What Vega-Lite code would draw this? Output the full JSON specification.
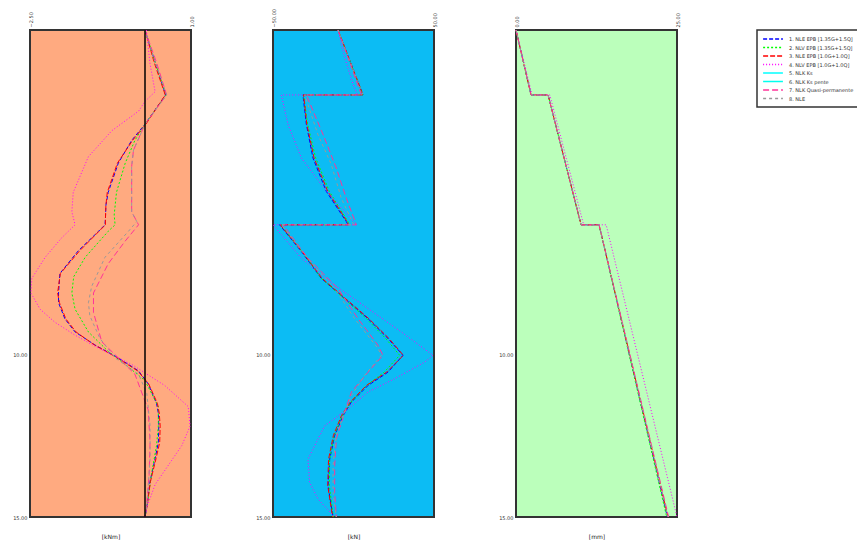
{
"$schema": "https://vega.github.io/schema/vega-lite/v6.json",
"background": "white",
"padding": {"left": 11, "top": 7, "right": 0, "bottom": 0},
"bounds": "flush",
"spacing": 82,
"config": {
 "view": {"stroke": "#333", "strokeWidth": 2},
 "axis": {"labelFont": "DejaVu Sans", "labelFontSize": 5, "titleFont": "DejaVu Sans", "titleFontSize": 6, "titleFontWeight": "normal", "ticks": false, "domain": false, "grid": false, "labelColor": "#333", "titleColor": "#222"},
 "legend": {"orient": "none", "legendX": 727, "legendY": 0, "strokeColor": "#333", "strokeWidth": 1.5, "padding": 5, "labelFont": "DejaVu Sans", "labelFontSize": 5, "labelColor": "#333", "symbolType": "M-3.3,0H3.3", "symbolSize": 36, "symbolStrokeWidth": 1.5, "symbolOffset": 7, "labelOffset": 12, "rowPadding": 1.5, "title": null}
},
"datasets": {
 "m": [
 {"s":"1","y":0,"x":0},{"s":"1","y":1,"x":0.22},{"s":"1","y":2,"x":0.45},{"s":"1","y":2.9,"x":0},{"s":"1","y":3.4,"x":-0.29},{"s":"1","y":4.1,"x":-0.58},{"s":"1","y":5,"x":-0.8},{"s":"1","y":5.4,"x":-0.85},{"s":"1","y":5.8,"x":-0.86},{"s":"1","y":6,"x":-0.87},{"s":"1","y":6.2,"x":-1.01},{"s":"1","y":6.8,"x":-1.45},{"s":"1","y":7.5,"x":-1.85},{"s":"1","y":8.1,"x":-1.88},{"s":"1","y":8.4,"x":-1.88},{"s":"1","y":8.9,"x":-1.74},{"s":"1","y":9.3,"x":-1.52},{"s":"1","y":9.7,"x":-1.09},{"s":"1","y":10.1,"x":-0.58},{"s":"1","y":10.5,"x":-0.14},{"s":"1","y":10.9,"x":0.07},{"s":"1","y":11.5,"x":0.25},{"s":"1","y":11.8,"x":0.29},{"s":"1","y":12.2,"x":0.3},{"s":"1","y":12.7,"x":0.29},{"s":"1","y":13.2,"x":0.22},{"s":"1","y":13.9,"x":0.11},{"s":"1","y":14.7,"x":0.04},{"s":"1","y":15,"x":0},
 {"s":"2","y":0,"x":0},{"s":"2","y":1,"x":0.22},{"s":"2","y":2,"x":0.46},{"s":"2","y":2.9,"x":0},{"s":"2","y":3.4,"x":-0.22},{"s":"2","y":4.1,"x":-0.43},{"s":"2","y":5,"x":-0.62},{"s":"2","y":5.7,"x":-0.67},{"s":"2","y":6,"x":-0.65},{"s":"2","y":6.2,"x":-0.8},{"s":"2","y":7,"x":-1.3},{"s":"2","y":7.6,"x":-1.55},{"s":"2","y":8.1,"x":-1.59},{"s":"2","y":8.6,"x":-1.52},{"s":"2","y":9.3,"x":-1.23},{"s":"2","y":9.9,"x":-0.8},{"s":"2","y":10.3,"x":-0.43},{"s":"2","y":10.8,"x":0},{"s":"2","y":11.6,"x":0.29},{"s":"2","y":12.2,"x":0.29},{"s":"2","y":12.8,"x":0.25},{"s":"2","y":13.7,"x":0.14},{"s":"2","y":14.7,"x":0.04},{"s":"2","y":15,"x":0},
 {"s":"3","y":0,"x":0},{"s":"3","y":1,"x":0.2},{"s":"3","y":2,"x":0.44},{"s":"3","y":2.9,"x":0.02},{"s":"3","y":3.4,"x":-0.27},{"s":"3","y":4.1,"x":-0.6},{"s":"3","y":5,"x":-0.82},{"s":"3","y":5.4,"x":-0.85},{"s":"3","y":5.8,"x":-0.86},{"s":"3","y":6,"x":-0.86},{"s":"3","y":6.2,"x":-1.0},{"s":"3","y":6.8,"x":-1.42},{"s":"3","y":7.5,"x":-1.84},{"s":"3","y":8.1,"x":-1.9},{"s":"3","y":8.4,"x":-1.86},{"s":"3","y":8.9,"x":-1.72},{"s":"3","y":9.3,"x":-1.5},{"s":"3","y":9.7,"x":-1.1},{"s":"3","y":10.1,"x":-0.6},{"s":"3","y":10.5,"x":-0.16},{"s":"3","y":10.9,"x":0.08},{"s":"3","y":11.5,"x":0.27},{"s":"3","y":11.8,"x":0.31},{"s":"3","y":12.2,"x":0.33},{"s":"3","y":12.7,"x":0.32},{"s":"3","y":13.2,"x":0.24},{"s":"3","y":13.9,"x":0.12},{"s":"3","y":14.7,"x":0.04},{"s":"3","y":15,"x":0},
 {"s":"4","y":0,"x":0.03},{"s":"4","y":1.05,"x":0.11},{"s":"4","y":1.9,"x":0.22},{"s":"4","y":2.2,"x":0},{"s":"4","y":2.5,"x":-0.14},{"s":"4","y":3.1,"x":-0.72},{"s":"4","y":3.9,"x":-1.23},{"s":"4","y":5,"x":-1.56},{"s":"4","y":5.6,"x":-1.59},{"s":"4","y":6,"x":-1.52},{"s":"4","y":6.4,"x":-1.81},{"s":"4","y":7,"x":-2.17},{"s":"4","y":7.65,"x":-2.46},{"s":"4","y":8.1,"x":-2.48},{"s":"4","y":8.6,"x":-2.28},{"s":"4","y":9,"x":-1.96},{"s":"4","y":9.4,"x":-1.52},{"s":"4","y":9.8,"x":-1.01},{"s":"4","y":10.3,"x":-0.29},{"s":"4","y":10.95,"x":0.43},{"s":"4","y":11.6,"x":0.94},{"s":"4","y":12.2,"x":0.98},{"s":"4","y":12.8,"x":0.8},{"s":"4","y":13.4,"x":0.51},{"s":"4","y":14,"x":0.22},{"s":"4","y":14.7,"x":0.04},{"s":"4","y":15,"x":0},
 {"s":"7","y":0,"x":0},{"s":"7","y":1,"x":0.25},{"s":"7","y":2,"x":0.47},{"s":"7","y":2.9,"x":0},{"s":"7","y":3.7,"x":-0.25},{"s":"7","y":4.2,"x":-0.29},{"s":"7","y":5.6,"x":-0.29},{"s":"7","y":6,"x":-0.14},{"s":"7","y":6.5,"x":-0.43},{"s":"7","y":7.2,"x":-0.8},{"s":"7","y":8.1,"x":-1.12},{"s":"7","y":8.7,"x":-1.12},{"s":"7","y":9.6,"x":-0.94},{"s":"7","y":10.6,"x":-0.22},{"s":"7","y":11.7,"x":0.07},{"s":"7","y":12.7,"x":0.11},{"s":"7","y":13.7,"x":0.09},{"s":"7","y":14.7,"x":0.03},{"s":"7","y":15,"x":0},
 {"s":"8","y":0,"x":0},{"s":"8","y":1,"x":0.22},{"s":"8","y":2,"x":0.47},{"s":"8","y":2.9,"x":0},{"s":"8","y":3.7,"x":-0.25},{"s":"8","y":4.2,"x":-0.29},{"s":"8","y":5.6,"x":-0.29},{"s":"8","y":5.9,"x":-0.18},{"s":"8","y":6.2,"x":-0.36},{"s":"8","y":7,"x":-0.87},{"s":"8","y":7.9,"x":-1.16},{"s":"8","y":8.4,"x":-1.23},{"s":"8","y":8.8,"x":-1.2},{"s":"8","y":9.5,"x":-0.98},{"s":"8","y":10.1,"x":-0.65},{"s":"8","y":10.6,"x":-0.14},{"s":"8","y":11.2,"x":0.04},{"s":"8","y":12.2,"x":0.11},{"s":"8","y":13.2,"x":0.11},{"s":"8","y":14.7,"x":0.04},{"s":"8","y":15,"x":0}
 ],
 "v": [
 {"s":"1","y":0,"x":-9.6},{"s":"1","y":2,"x":5.9},{"s":"1","y":2,"x":-31.4},{"s":"1","y":2.9,"x":-29.3},{"s":"1","y":3.94,"x":-25.2},{"s":"1","y":4.97,"x":-16.9},{"s":"1","y":5.9,"x":-4.5},{"s":"1","y":6,"x":-3.4},{"s":"1","y":6,"x":-45.9},{"s":"1","y":6.82,"x":-32.4},{"s":"1","y":7.65,"x":-20},{"s":"1","y":8.27,"x":-5.5},{"s":"1","y":8.89,"x":9},{"s":"1","y":9.5,"x":21.4},{"s":"1","y":10.02,"x":30.7},{"s":"1","y":10.54,"x":21.4},{"s":"1","y":10.95,"x":9},{"s":"1","y":11.46,"x":-1.3},{"s":"1","y":11.88,"x":-6.5},{"s":"1","y":12.49,"x":-11.7},{"s":"1","y":13.22,"x":-14.8},{"s":"1","y":14.04,"x":-15.8},{"s":"1","y":15,"x":-12.7},
 {"s":"2","y":0,"x":-9.6},{"s":"2","y":2,"x":5.9},{"s":"2","y":2,"x":-31},{"s":"2","y":2.9,"x":-28.5},{"s":"2","y":3.94,"x":-23.5},{"s":"2","y":4.97,"x":-15},{"s":"2","y":5.9,"x":-3.5},{"s":"2","y":6,"x":-2.5},{"s":"2","y":6,"x":-45},{"s":"2","y":6.82,"x":-32},{"s":"2","y":7.65,"x":-20},{"s":"2","y":8.27,"x":-6},{"s":"2","y":8.89,"x":8},{"s":"2","y":9.5,"x":20},{"s":"2","y":10.02,"x":28.7},{"s":"2","y":10.54,"x":19},{"s":"2","y":10.95,"x":8},{"s":"2","y":11.46,"x":-1.5},{"s":"2","y":11.88,"x":-7},{"s":"2","y":12.49,"x":-12},{"s":"2","y":13.22,"x":-14.8},{"s":"2","y":14.04,"x":-15},{"s":"2","y":15,"x":-12.5},
 {"s":"3","y":0,"x":-9.6},{"s":"3","y":2,"x":5.9},{"s":"3","y":2,"x":-31},{"s":"3","y":2.9,"x":-29},{"s":"3","y":3.94,"x":-24.5},{"s":"3","y":4.97,"x":-16},{"s":"3","y":5.9,"x":-4},{"s":"3","y":6,"x":-3},{"s":"3","y":6,"x":-45.5},{"s":"3","y":6.82,"x":-32},{"s":"3","y":7.65,"x":-19.5},{"s":"3","y":8.27,"x":-5},{"s":"3","y":8.89,"x":9.5},{"s":"3","y":9.5,"x":22},{"s":"3","y":10.02,"x":31},{"s":"3","y":10.54,"x":20.5},{"s":"3","y":10.95,"x":8},{"s":"3","y":11.46,"x":-2},{"s":"3","y":11.88,"x":-7.5},{"s":"3","y":12.49,"x":-12.5},{"s":"3","y":13.22,"x":-15.5},{"s":"3","y":14.04,"x":-16},{"s":"3","y":15,"x":-13},
 {"s":"4","y":0,"x":-9.6},{"s":"4","y":0.85,"x":-5.5},{"s":"4","y":1.67,"x":-0.3},{"s":"4","y":1.93,"x":1.8},{"s":"4","y":2,"x":2.4},{"s":"4","y":2,"x":-44.8},{"s":"4","y":2.91,"x":-40.7},{"s":"4","y":3.94,"x":-32.4},{"s":"4","y":4.76,"x":-20},{"s":"4","y":5.48,"x":-7.6},{"s":"4","y":6,"x":1.8},{"s":"4","y":6,"x":-50},{"s":"4","y":7.03,"x":-32.4},{"s":"4","y":7.86,"x":-11.7},{"s":"4","y":8.58,"x":9},{"s":"4","y":9.3,"x":29.7},{"s":"4","y":10.02,"x":49.4},{"s":"4","y":10.23,"x":44.2},{"s":"4","y":10.74,"x":25.6},{"s":"4","y":11.15,"x":9},{"s":"4","y":11.67,"x":-3.4},{"s":"4","y":12.19,"x":-17.9},{"s":"4","y":13.22,"x":-28.3},{"s":"4","y":13.94,"x":-27.2},{"s":"4","y":14.45,"x":-22},{"s":"4","y":15,"x":-11.7},
 {"s":"7","y":0,"x":-9.6},{"s":"7","y":2,"x":4.9},{"s":"7","y":2,"x":-29.3},{"s":"7","y":3.22,"x":-18.9},{"s":"7","y":4.25,"x":-10.7},{"s":"7","y":5.18,"x":-4.5},{"s":"7","y":6,"x":1.8},{"s":"7","y":6,"x":-43.8},{"s":"7","y":7.03,"x":-28.3},{"s":"7","y":7.96,"x":-9.6},{"s":"7","y":8.89,"x":2.8},{"s":"7","y":9.71,"x":15.2},{"s":"7","y":10.02,"x":18.3},{"s":"7","y":10.54,"x":9},{"s":"7","y":11.15,"x":-1.3},{"s":"7","y":11.77,"x":-5.5},{"s":"7","y":12.6,"x":-10.7},{"s":"7","y":13.42,"x":-11.7},{"s":"7","y":14.25,"x":-11.7},{"s":"7","y":15,"x":-10.7},
 {"s":"8","y":0,"x":-9.6},{"s":"8","y":2,"x":5.9},{"s":"8","y":2,"x":-30.3},{"s":"8","y":3.22,"x":-22.1},{"s":"8","y":4.14,"x":-13.8},{"s":"8","y":5.18,"x":-7.6},{"s":"8","y":5.95,"x":-0.3},{"s":"8","y":6,"x":0.3},{"s":"8","y":6,"x":-44.8},{"s":"8","y":6.93,"x":-30.3},{"s":"8","y":7.96,"x":-11.7},{"s":"8","y":8.89,"x":0.7},{"s":"8","y":9.81,"x":15.2},{"s":"8","y":10.02,"x":17.3},{"s":"8","y":10.64,"x":6.9},{"s":"8","y":11.26,"x":-1.3},{"s":"8","y":11.77,"x":-5.5},{"s":"8","y":12.49,"x":-10.7},{"s":"8","y":13.42,"x":-12.7},{"s":"8","y":14.25,"x":-12.7},{"s":"8","y":15,"x":-10.7}
 ],
 "d": [
 {"s":"1","y":0,"x":0},{"s":"1","y":2,"x":2.33},{"s":"1","y":2,"x":4.98},{"s":"1","y":6,"x":10.1},{"s":"1","y":6,"x":12.9},{"s":"1","y":15,"x":23.5},
 {"s":"2","y":0,"x":0},{"s":"2","y":2,"x":2.33},{"s":"2","y":2,"x":4.98},{"s":"2","y":6,"x":10.1},{"s":"2","y":6,"x":12.9},{"s":"2","y":15,"x":23.4},
 {"s":"3","y":0,"x":0},{"s":"3","y":2,"x":2.33},{"s":"3","y":2,"x":4.98},{"s":"3","y":6,"x":10.1},{"s":"3","y":6,"x":12.9},{"s":"3","y":15,"x":23.6},
 {"s":"4","y":0,"x":0},{"s":"4","y":2,"x":2.5},{"s":"4","y":2,"x":5.25},{"s":"4","y":6,"x":10.5},{"s":"4","y":6,"x":14},{"s":"4","y":15,"x":25},
 {"s":"7","y":0,"x":0},{"s":"7","y":2,"x":2.33},{"s":"7","y":2,"x":4.98},{"s":"7","y":6,"x":10.1},{"s":"7","y":6,"x":12.9},{"s":"7","y":15,"x":23.7},
 {"s":"8","y":0,"x":0},{"s":"8","y":2,"x":2.33},{"s":"8","y":2,"x":4.98},{"s":"8","y":6,"x":10.1},{"s":"8","y":6,"x":12.9},{"s":"8","y":15,"x":23.6}
 ]
},
"hconcat": [
 {
  "width": 161, "height": 487,
  "view": {"fill": "#FFAA80"},
  "layer": [
   {
    "data": {"name": "m"},
    "mark": {"type": "line", "strokeWidth": 1},
    "encoding": {
     "y": {"field": "y", "type": "quantitative", "scale": {"domain": [0, 15], "reverse": true, "nice": false, "zero": false}, "axis": {"values": [10, 15], "format": ".2f", "title": null, "labelPadding": 3}},
     "x": {"field": "x", "type": "quantitative", "scale": {"domain": [-2.5, 1], "nice": false, "zero": false}, "axis": {"orient": "top", "values": [-2.5, 1], "format": ".2f", "labelAngle": -90, "labelPadding": 3, "title": "[kNm]", "titleY": 509}},
     "color": {"field": "s", "type": "nominal", "scale": {"domain": ["1","2","3","4","5","6","7","8"], "range": ["#0000FF","#00FF00","#FF0000","#FF00FF","#00FFFF","#00FFEE","#FF3399","#999999"]}, "legend": {"labelExpr": "['1. NLE  EPB [1.35G+1.5Q]','2. NLV  EPB [1.35G+1.5Q]','3. NLE  EPB [1.0G+1.0Q]','4. NLV  EPB [1.0G+1.0Q]','5. NLK  Ks','6. NLK  Ks pente','7. NLK  Quasi-permanente','8. NLE'][toNumber(datum.label)-1]"}},
     "strokeDash": {"field": "s", "type": "nominal", "scale": {"domain": ["1","2","3","4","5","6","7","8"], "range": [[4,2],[2,2],[5,2],[1,2],[1,0],[1,0],[6,3],[3,3]]}, "legend": null},
     "order": {"value": null}
    }
   },
   {
    "data": {"values": [{"x": 0}]},
    "mark": {"type": "rule", "color": "#000", "strokeWidth": 1.5},
    "encoding": {"x": {"field": "x", "type": "quantitative"}}
   }
  ]
 },
 {
  "width": 161, "height": 487,
  "view": {"fill": "#0CBCF4"},
  "data": {"name": "v"},
  "mark": {"type": "line", "strokeWidth": 1},
  "encoding": {
   "y": {"field": "y", "type": "quantitative", "scale": {"domain": [0, 15], "reverse": true, "nice": false, "zero": false}, "axis": {"values": [10, 15], "format": ".2f", "title": null, "labelPadding": 3}},
   "x": {"field": "x", "type": "quantitative", "scale": {"domain": [-50, 50], "nice": false, "zero": false}, "axis": {"orient": "top", "values": [-50, 50], "format": ".2f", "labelAngle": -90, "labelPadding": 3, "title": "[kN]", "titleY": 509}},
   "color": {"field": "s", "type": "nominal"},
   "strokeDash": {"field": "s", "type": "nominal", "legend": null},
   "order": {"value": null}
  }
 },
 {
  "width": 161, "height": 487,
  "view": {"fill": "#BBFFBB"},
  "data": {"name": "d"},
  "mark": {"type": "line", "strokeWidth": 1},
  "encoding": {
   "y": {"field": "y", "type": "quantitative", "scale": {"domain": [0, 15], "reverse": true, "nice": false, "zero": false}, "axis": {"values": [10, 15], "format": ".2f", "title": null, "labelPadding": 3}},
   "x": {"field": "x", "type": "quantitative", "scale": {"domain": [0, 25], "nice": false, "zero": false}, "axis": {"orient": "top", "values": [0, 25], "format": ".2f", "labelAngle": -90, "labelPadding": 3, "title": "[mm]", "titleY": 509}},
   "color": {"field": "s", "type": "nominal"},
   "strokeDash": {"field": "s", "type": "nominal", "legend": null},
   "order": {"value": null}
  }
 }
]
}
